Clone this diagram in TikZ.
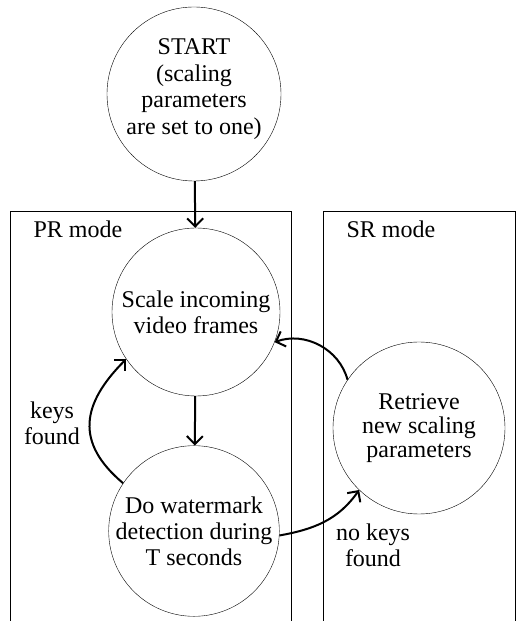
\documentclass[tikz,border=0pt]{standalone}
\usepackage{fontspec}
\setmainfont{Liberation Serif}
\usetikzlibrary{arrows.meta}
\begin{document}
\begin{tikzpicture}[x=1pt,y=1pt,
  state/.style={circle,draw,thin,minimum size=168pt,inner sep=0pt,align=center,
    font=\fontsize{24}{26}\selectfont},
  txt/.style={align=center,font=\fontsize{24}{26}\selectfont},
  flow/.style={line width=2pt,-{Straight Barb[length=8pt,width=16pt,line width=2pt]}}]
  \useasboundingbox (0,0) rectangle (516,621);
  % mode boxes, open at the bottom
  \draw[thin] (10,0) -- (10,410) -- (291,410) -- (291,0);
  \draw[thin] (323,0) -- (323,410) -- (515,410) -- (515,0);
  \node[txt,anchor=base west] (prmode) at (30,383) {PR mode};
  \node[txt,anchor=base west] (srmode) at (343,383) {SR mode};
  % states
  \node[state,minimum size=166pt,font=\fontsize{24}{26.5}\selectfont] (start) at (194,527)
    {START\\(scaling\\parameters\\are set to one)\\[-12pt]\mbox{}};
  \node[state] (scale) at (196,309) {Scale incoming\\video frames};
  \node[state] (detect) at (194,90) {Do watermark\\detection during\\T seconds};
  \node[state,minimum size=172pt,font=\fontsize{24}{24}\selectfont] (retrieve) at (419,193)
    {Retrieve\\new scaling\\parameters};
  % transitions
  \draw[flow] (start) -- (scale);
  \draw[flow] (scale) -- (detect);
  \draw[flow] (detect.146) to[out=140,in=225,looseness=1.3] (scale.214);
  \draw[flow] (retrieve.146) to[out=105,in=20] (scale.-21);
  \draw[flow] (detect.-3) to[out=10,in=235] (retrieve.226);
  \node[txt] (keys) at (52,198) {keys\\found};
  \node[txt] (nokeys) at (373,76) {no keys\\found};
\end{tikzpicture}
\end{document}
